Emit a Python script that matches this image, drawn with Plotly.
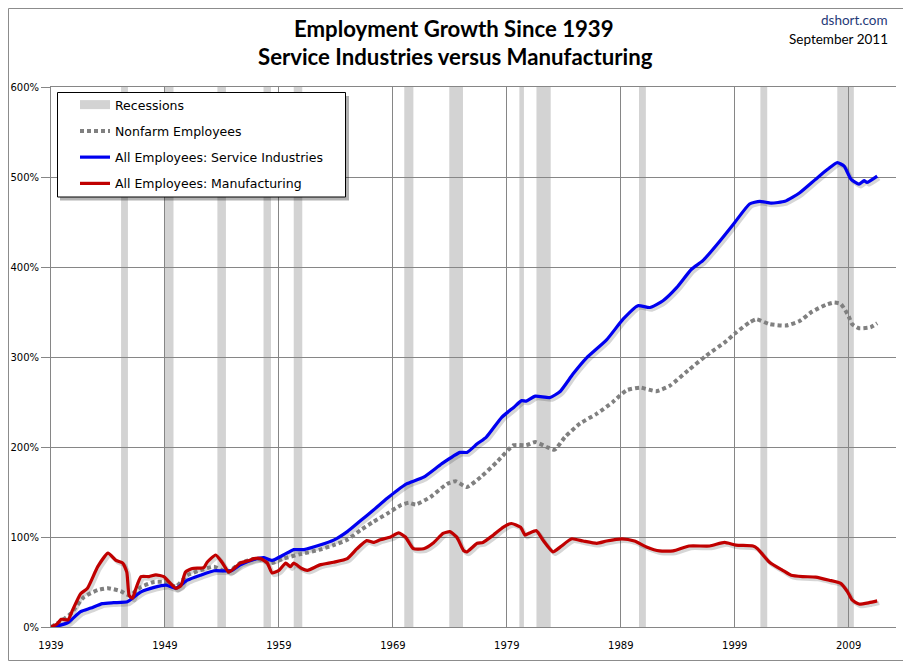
import plotly.graph_objects as go

# recession bands, decimal years (as drawn in the source chart)
rec_start = [1945.15, 1949.0, 1953.6, 1957.65, 1960.3, 1970.0, 1973.95, 1980.1, 1981.6, 1990.6, 2001.25, 2008.0]
rec_end = [1945.75, 1949.75, 1954.35, 1958.3, 1961.05, 1970.8, 1975.15, 1980.5, 1982.85, 1991.2, 2001.85, 2009.45]

# growth since 1939, percent
nonfarm_x = [1939.0, 1939.8, 1940.75, 1941.9, 1943.1, 1944.0, 1945.1, 1945.9, 1946.9, 1948.05,
             1948.9, 1949.95, 1950.97, 1952.1, 1953.3, 1954.5, 1955.6, 1957.1, 1958.3, 1959.4,
             1960.9, 1962.6, 1963.8, 1965.0, 1966.15, 1967.3, 1968.5, 1969.65, 1970.4, 1971.0,
             1972.3, 1973.75, 1974.5, 1975.5, 1976.7, 1978.1, 1979.6, 1980.7, 1981.5, 1982.5,
             1983.2, 1984.1, 1985.4, 1986.9, 1988.3, 1989.5, 1990.7, 1992.1, 1993.3, 1994.9,
             1996.5, 1998.1, 1999.1, 2000.3, 2000.9, 2002.05, 2003.5, 2004.7, 2005.8, 2007.0,
             2007.7, 2008.3, 2008.7, 2009.0, 2009.3, 2009.9, 2010.9, 2011.5]
nonfarm_y = [0, 6, 15, 33.5, 41, 43, 40, 35, 44.5, 50,
             50, 45, 57.5, 63, 67, 61, 71, 76, 71, 76,
             81, 86, 91, 97, 107.5, 117, 126, 135, 138, 136,
             144.5, 159, 162, 155.5, 166.5, 183, 202, 202, 205.5, 200,
             197, 211, 226, 237, 250, 263, 266, 262, 268, 285,
             301.5, 316, 327, 338.5, 342, 336.5, 335, 340, 350.5, 358,
             360.5, 359, 352, 345, 336.5, 332, 333, 337.5]

service_x = [1939.0, 1939.5, 1940.5, 1941.6, 1942.5, 1943.5, 1944.5, 1945.7, 1946.15, 1946.9,
             1948.05, 1949.1, 1949.95, 1950.97, 1952.1, 1953.3, 1954.8, 1955.6, 1956.8, 1957.7,
             1958.4, 1959.4, 1960.3, 1961.2, 1962.6, 1963.8, 1965.0, 1966.15, 1967.3, 1968.5,
             1969.4, 1970.2, 1971.7, 1973.3, 1974.9, 1975.5, 1976.4, 1977.2, 1978.55, 1979.6,
             1980.3, 1980.7, 1981.5, 1982.8, 1983.7, 1984.8, 1986.0, 1987.75, 1989.2, 1990.5,
             1991.55, 1992.7, 1993.9, 1995.2, 1996.2, 1997.7, 1999.0, 2000.3, 2001.2, 2002.2,
             2003.4, 2004.7, 2006.1, 2007.15, 2008.0, 2008.6, 2009.2, 2009.9, 2010.35, 2010.6,
             2011.5]
service_y = [0, 1, 5, 17, 21, 26, 27, 28, 32, 39,
             44, 46.5, 43, 52, 57.5, 62.5, 62.5, 69, 75, 77,
             74, 80, 86, 86, 91, 96.5, 106, 118, 130, 143,
             152, 159, 166.5, 181.5, 194, 194, 203.5, 211, 233, 244,
             251.5, 251, 256.5, 255, 262, 281, 299, 319, 342, 357,
             355, 362.5, 377, 397.5, 407, 429, 449.5, 470, 473, 471,
             473, 482.5, 497.5, 508.5, 516, 512, 497.5, 492, 496, 494,
             501]

manuf_x = [1939.0, 1939.5, 1939.9, 1940.5, 1940.9, 1941.6, 1942.2, 1943.1, 1944.0, 1944.7,
           1945.3, 1945.65, 1945.86, 1946.15, 1946.4, 1946.9, 1947.6, 1948.2, 1948.9, 1949.35,
           1949.95, 1950.4, 1950.8, 1951.4, 1952.4, 1952.7, 1953.45, 1954.0, 1954.6, 1955.05,
           1955.6, 1956.4, 1956.8, 1957.4, 1957.98, 1958.4, 1959.0, 1959.6, 1960.0, 1960.3,
           1961.0, 1961.5, 1962.6, 1963.8, 1965.0, 1965.85, 1966.7, 1967.3, 1967.9, 1968.8,
           1969.5, 1970.1, 1970.8, 1971.7, 1972.6, 1973.4, 1974.0, 1974.6, 1975.2, 1975.5,
           1976.4, 1976.9, 1977.8, 1978.7, 1979.4, 1980.2, 1980.6, 1981.0, 1981.6, 1982.2,
           1983.05, 1983.7, 1984.7, 1985.7, 1986.9, 1987.75, 1989.1, 1990.2, 1991.25, 1992.4,
           1993.6, 1995.0, 1996.8, 1998.1, 1999.1, 2000.6, 2001.0, 2002.05, 2003.2, 2003.95,
           2004.96, 2006.1, 2007.3, 2008.3, 2008.9, 2009.3, 2009.9, 2010.8, 2011.5]
manuf_y = [0, 3, 8.5, 8, 19, 37, 43, 67, 82, 74,
           71, 61, 35, 32, 41, 56, 56, 58, 56, 50,
           43, 46, 61, 65, 66, 72, 80, 72, 61, 65,
           71, 74, 76, 76, 71, 60, 63, 71, 67, 71,
           65, 63, 69, 72, 76, 87, 96, 94, 97, 100,
           104.5, 100, 87, 87, 94, 104, 106, 100, 85, 83.5,
           93, 94, 102, 111, 115, 111, 102, 104.5, 107, 96,
           83.5, 89, 98, 95.5, 93, 95.5, 98, 95.5, 89, 84.5,
           84.5, 90, 90, 94, 91, 90, 87, 72, 63, 57.5,
           56, 55.5, 52, 48.5, 39, 30, 25.5, 27, 29]

GRID = "#868686"
BAND = "#D3D3D3"
BLUE = "#0000F0"
RED = "#C00000"
GREY = "#808080"

# the page puts the figure 8px in from the top-left corner
OFF = 8
W, H = 911 - OFF, 662 - OFF
# plot area in page pixels
P_L, P_R, P_T, P_B = 51, 896, 87, 627
ML, MT = P_L - OFF, P_T - OFF
MR, MB = W - (P_R - OFF), H - (P_B - OFF)
PW, PH = P_R - P_L, P_B - P_T


def px(x):  # page pixel -> paper x
    return (x - P_L) / PW


def py(y):  # page pixel -> paper y
    return (P_B - y) / PH


fig = go.Figure()

# soft drop shadow under the two solid lines
for xs, ys in [(service_x, service_y), (manuf_x, manuf_y)]:
    fig.add_trace(go.Scatter(x=[v + 0.18 for v in xs], y=[v - 2.5 for v in ys], mode="lines",
                             line=dict(color="rgba(0,0,0,0.16)", width=4, shape="spline", smoothing=0.5),
                             showlegend=False, hoverinfo="skip"))

fig.add_trace(go.Scatter(x=[None], y=[None], mode="lines", name="Recessions",
                         line=dict(color=BAND, width=9), legendgroup="r"))
fig.add_trace(go.Scatter(x=nonfarm_x, y=nonfarm_y, mode="lines", name="Nonfarm Employees",
                         line=dict(color=GREY, width=4, dash="4px,3px", shape="spline", smoothing=0.5),
                         legendgroup="n"))
fig.add_trace(go.Scatter(x=service_x, y=service_y, mode="lines", name="All Employees: Service Industries",
                         line=dict(color=BLUE, width=3.2, shape="spline", smoothing=0.5),
                         legendgroup="s"))
fig.add_trace(go.Scatter(x=manuf_x, y=manuf_y, mode="lines", name="All Employees: Manufacturing",
                         line=dict(color=RED, width=3.2, shape="spline", smoothing=0.5),
                         legendgroup="m"))

shapes = []
for s, e in zip(rec_start, rec_end):
    shapes.append(dict(type="rect", xref="x", yref="paper", x0=s, x1=e, y0=0, y1=1,
                       fillcolor=BAND, line=dict(width=0), layer="below"))
# legend box with its shadow
shapes.append(dict(type="rect", xref="paper", yref="paper", x0=px(60), x1=px(349), y0=py(200.5), y1=py(96),
                   fillcolor="rgba(0,0,0,0.3)", line=dict(width=0), layer="above"))
shapes.append(dict(type="rect", xref="paper", yref="paper", x0=px(57.5), x1=px(345.5), y0=py(197), y1=py(92.5),
                   fillcolor="white", line=dict(color="#000000", width=1), layer="above"))
# outer chart border
shapes.append(dict(type="rect", xref="paper", yref="paper", x0=px(OFF + 0.5), x1=px(909.5), y0=py(660.5),
                   y1=py(OFF + 0.5), line=dict(color="#8C8C8C", width=1), fillcolor="rgba(0,0,0,0)",
                   layer="above"))

annotations = [
    dict(text="<b>Employment Growth Since 1939</b>", x=px(454), y=py(28.5), xref="paper", yref="paper",
         showarrow=False, font=dict(family="Lato", size=22.2, color="#000000"), xanchor="center", yanchor="middle"),
    dict(text="<b>Service Industries versus Manufacturing</b>", x=px(455), y=py(56.5), xref="paper",
         yref="paper", showarrow=False, font=dict(family="Lato", size=22.2, color="#000000"),
         xanchor="center", yanchor="middle"),
    dict(text="dshort.com", x=px(890), y=py(20), xref="paper", yref="paper", showarrow=False,
         font=dict(family="Lato", size=13.5, color="#1F3A78"), xanchor="right", yanchor="middle"),
    dict(text="September 2011", x=px(890), y=py(39), xref="paper", yref="paper", showarrow=False,
         font=dict(family="Lato", size=13.5, color="#000000"), xanchor="right", yanchor="middle"),
]

fig.update_layout(
    width=W, height=H,
    margin=dict(l=ML, r=MR, t=MT, b=MB, pad=0),
    paper_bgcolor="white", plot_bgcolor="white",
    font=dict(family="DejaVu Sans", size=10, color="#000000"),
    shapes=shapes, annotations=annotations,
    legend=dict(x=px(75), y=py(90), xanchor="left", yanchor="top",
                bgcolor="rgba(0,0,0,0)", borderwidth=0,
                font=dict(family="DejaVu Sans", size=12.5, color="#000000"),
                tracegroupgap=7, traceorder="grouped"),
    showlegend=True,
)
fig.update_xaxes(range=[1939, 2013.15], tick0=1939, dtick=10, showgrid=True, gridcolor=GRID, gridwidth=1,
                 showline=True, linecolor=GRID, linewidth=1, mirror=True, zeroline=False, automargin=False,
                 ticks="outside", ticklen=9, tickcolor="rgba(0,0,0,0)")
fig.update_yaxes(range=[0, 600], dtick=100, ticksuffix="%", showgrid=True, gridcolor=GRID, gridwidth=1,
                 showline=True, linecolor=GRID, linewidth=1, zeroline=False, automargin=False,
                 ticks="outside", ticklen=9, tickcolor=GRID)

fig.write_html("out.html")
